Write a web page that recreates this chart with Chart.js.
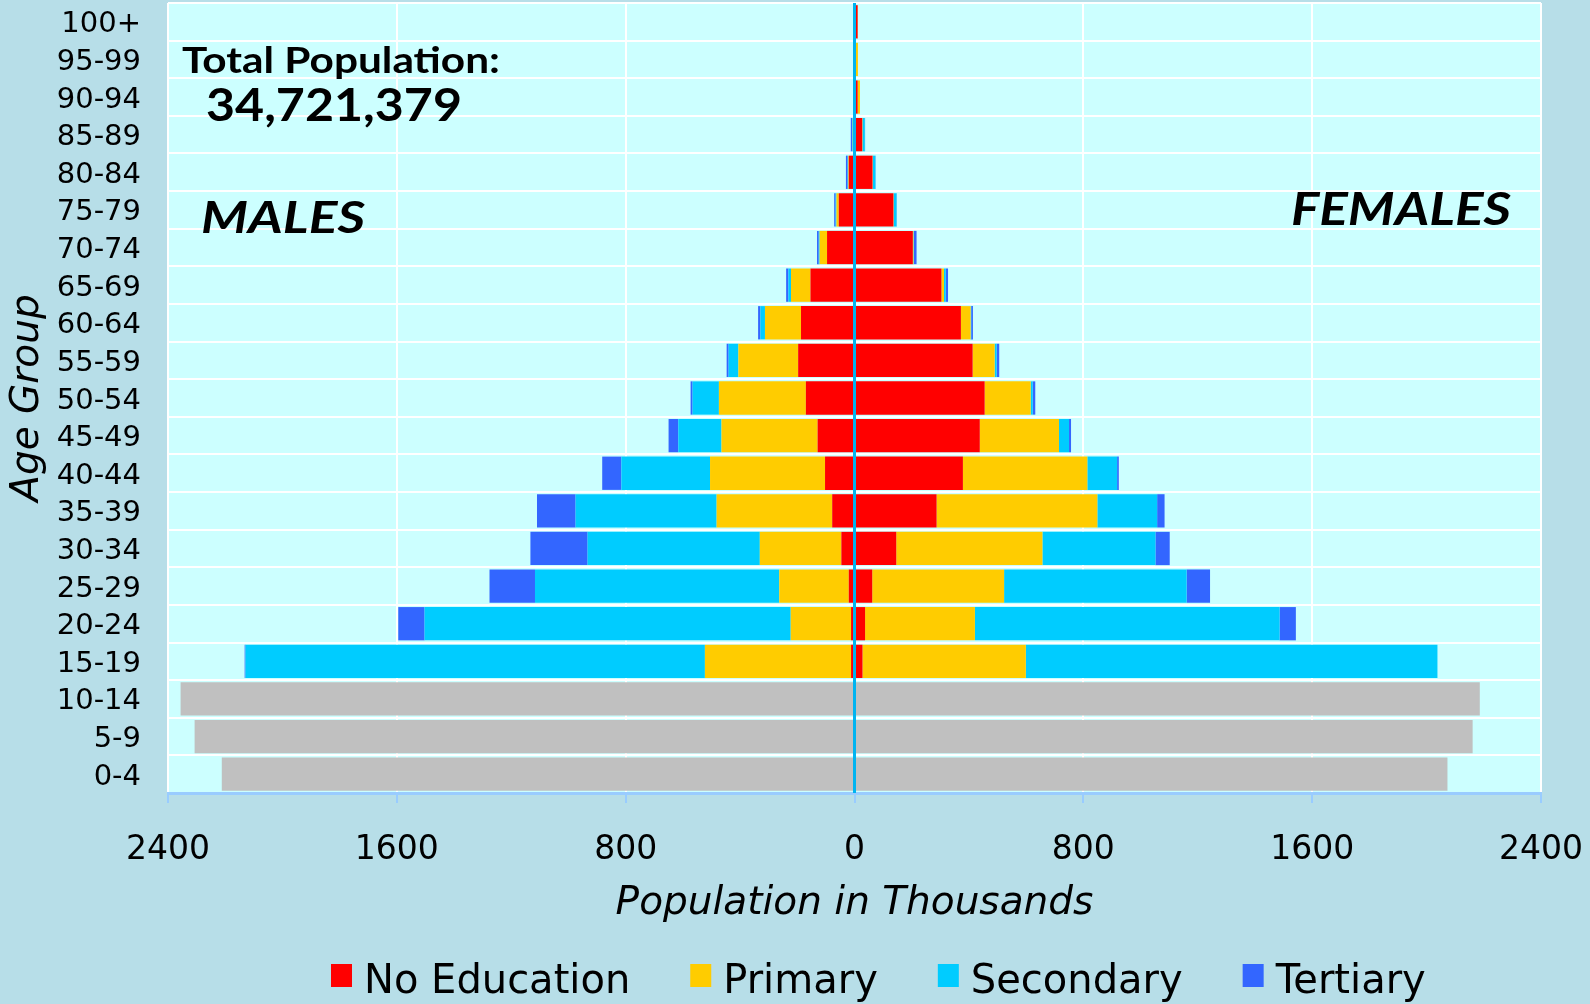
<!DOCTYPE html>
<html>
<head>
<meta charset="utf-8">
<script src="https://cdn.jsdelivr.net/npm/chart.js@4.4.1/dist/chart.umd.min.js"></script>
<style>
html, body { margin: 0; padding: 0; background: #B7DEE8; }
canvas { display: block; }
</style>
</head>
<body>
<canvas id="c" width="1590" height="1004"></canvas>
<script>
// ---------------- DATA ----------------
const ageGroups = ['100+','95-99','90-94','85-89','80-84','75-79','70-74','65-69','60-64','55-59','50-54','45-49','40-44','35-39','30-34','25-29','20-24','15-19','10-14','5-9','0-4'];

const educationLevels = ['No Education', 'Primary', 'Secondary', 'Tertiary'];

// Males (thousands)
const maleNoEducation = [1,1,2,5,20,55,96,154,187,197,170,129,103,78,46,20,12,12,null,null,null];
const malePrimary     = [0,0,1,1,2,8,26,68,126,209,304,336,402,404,285,243,211,511,null,null,null];
const maleSecondary   = [0,0,0,2,2,3,3,9,16,34,92,151,310,493,602,854,1280,1606,null,null,null];
const maleTertiary    = [0,0,0,5,6,5,6,8,8,7,7,34,67,135,200,159,92,3,null,null,null];
const maleUnder15     = [null,null,null,null,null,null,null,null,null,null,null,null,null,null,null,null,null,null,2356,2307,2212];

// Females (thousands)
const femaleNoEducation = [11,2,11,27,63,136,204,304,372,413,455,438,379,287,146,62,37,28,null,null,null];
const femalePrimary     = [1,10,8,1,1,1,2,9,34,77,161,277,435,562,511,461,384,571,null,null,null];
const femaleSecondary   = [0,0,0,8,9,10,2,6,2,7,7,35,104,209,395,638,1065,1439,null,null,null];
const femaleTertiary    = [0,0,0,1,1,1,9,8,6,9,9,7,6,26,50,82,57,0,null,null,null];
const femaleUnder15     = [null,null,null,null,null,null,null,null,null,null,null,null,null,null,null,null,null,null,2186,2161,2073];

const xTickValues = [-2400, -1600, -800, 0, 800, 1600, 2400];
const totalPopulationLabel = 'Total Population:';
const totalPopulationValue = '34,721,379';

// ---------------- STYLE ----------------
const COLORS = { 'No Education': '#FF0000', 'Primary': '#FFCC00', 'Secondary': '#00CCFF', 'Tertiary': '#3366FF' };
const GREY = '#C0C0C0';
const FONT = 'DejaVu Sans';

const maleSeries = { 'No Education': maleNoEducation, 'Primary': malePrimary, 'Secondary': maleSecondary, 'Tertiary': maleTertiary };
const femaleSeries = { 'No Education': femaleNoEducation, 'Primary': femalePrimary, 'Secondary': femaleSecondary, 'Tertiary': femaleTertiary };

const neg = arr => arr.map(v => v === null ? null : -v);

const datasets = [
  { label: 'Males 0-14', data: neg(maleUnder15), backgroundColor: GREY },
  { label: 'Females 0-14', data: femaleUnder15, backgroundColor: GREY }
];
educationLevels.forEach(level => {
  datasets.push({ label: level + ' (Males)', data: neg(maleSeries[level]), backgroundColor: COLORS[level] });
  datasets.push({ label: level + ' (Females)', data: femaleSeries[level], backgroundColor: COLORS[level] });
});
datasets.forEach(d => { d.borderWidth = 0; d.categoryPercentage = 1.0; d.barPercentage = 0.885; });

// ---------------- PLUGINS ----------------
const plotBackground = {
  id: 'plotBackground',
  beforeDraw(chart) {
    const { ctx, chartArea: a } = chart;
    ctx.save();
    ctx.fillStyle = '#B7DEE8';
    ctx.fillRect(0, 0, chart.width, chart.height);
    ctx.fillStyle = '#CCFFFF';
    ctx.fillRect(a.left, a.top, a.right - a.left, a.bottom - a.top);
    ctx.restore();
  }
};

const zeroLine = {
  id: 'zeroLine',
  afterDatasetsDraw(chart) {
    const { ctx, chartArea: a } = chart;
    const x = chart.scales.x.getPixelForValue(0);
    ctx.save();
    ctx.strokeStyle = '#00B4F0';
    ctx.lineWidth = 3;
    ctx.beginPath();
    ctx.moveTo(x, a.top);
    ctx.lineTo(x, a.bottom);
    ctx.stroke();
    ctx.restore();
  }
};

function drawFitted(ctx, text, font, x, baseline, width) {
  ctx.save();
  ctx.font = font;
  ctx.textAlign = 'left';
  ctx.textBaseline = 'alphabetic';
  const w = ctx.measureText(text).width;
  ctx.translate(x, baseline);
  ctx.scale(width / w, 1);
  ctx.fillStyle = '#000000';
  ctx.fillText(text, 0, 0);
  ctx.restore();
}

const annotations = {
  id: 'annotations',
  afterDraw(chart) {
    const ctx = chart.ctx;
    drawFitted(ctx, totalPopulationLabel, 'bold 36px Lato', 182, 73, 318);
    drawFitted(ctx, totalPopulationValue, 'bold 45px Lato', 206, 121, 256);
    drawFitted(ctx, 'MALES', 'italic bold 44px Lato', 201, 233, 164);
    drawFitted(ctx, 'FEMALES', 'italic bold 46px Lato', 1291, 225, 220);

    // legend
    ctx.save();
    ctx.font = '40px "' + FONT + '"';
    ctx.textAlign = 'left';
    ctx.textBaseline = 'alphabetic';
    let x = 331;
    educationLevels.forEach(level => {
      ctx.fillStyle = COLORS[level];
      ctx.fillRect(x, 964, 21, 23);
      ctx.fillStyle = '#000000';
      ctx.fillText(level, x + 33, 993);
      x += 33 + ctx.measureText(level).width + 60;
    });
    ctx.restore();
  }
};

// ---------------- CHART ----------------
new Chart(document.getElementById('c'), {
  type: 'bar',
  data: { labels: ageGroups, datasets },
  options: {
    indexAxis: 'y',
    responsive: false,
    animation: false,
    devicePixelRatio: 1,
    layout: { padding: { top: 3, right: 49, bottom: 76, left: 0 } },
    plugins: { legend: { display: false }, tooltip: { enabled: false } },
    scales: {
      x: {
        stacked: true,
        min: -2400, max: 2400,
        afterBuildTicks(scale) { scale.ticks = xTickValues.map(v => ({ value: v })); },
        afterFit(scale) { scale.height = 135; scale.paddingLeft = 0; scale.paddingRight = 0; },
        ticks: {
          callback: v => String(Math.abs(v)),
          font: { family: FONT, size: 33 },
          color: '#000000',
          padding: 28,
          maxRotation: 0
        },
        grid: { color: '#FFFFFF', lineWidth: 2, tickColor: '#99CCFF', tickWidth: 2, tickLength: 10 },
        border: { color: '#99CCFF', width: 3 },
        title: {
          display: true,
          text: 'Population in Thousands',
          font: { family: FONT, size: 39, style: 'italic' },
          color: '#000000',
          padding: { top: 0, bottom: 1 }
        }
      },
      y: {
        stacked: true,
        afterFit(scale) { scale.width = 168; scale.paddingTop = 0; scale.paddingBottom = 0; },
        ticks: {
          font: { family: FONT, size: 29 },
          color: '#000000',
          padding: 27,
          labelOffset: 3,
          autoSkip: false
        },
        grid: { color: '#FFFFFF', lineWidth: 2, drawTicks: false, offset: true },
        border: { display: false },
        title: {
          display: true,
          text: 'Age Group',
          font: { family: FONT, size: 39, style: 'italic' },
          color: '#000000',
          padding: { top: 4, bottom: 0 }
        }
      }
    }
  },
  plugins: [plotBackground, zeroLine, annotations]
});
</script>
</body>
</html>
